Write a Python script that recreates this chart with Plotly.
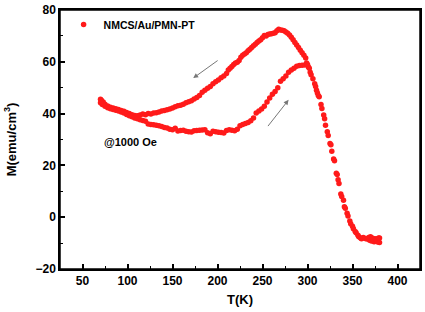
import plotly.graph_objects as go

# Cooling branch (upper curve)
T_cool = [298, 296, 294, 292, 290, 288, 286, 284, 282, 280, 278, 276, 274, 272, 270, 268, 266, 264, 262, 260,
          258, 256, 254, 252, 250, 248, 246, 244, 242, 240, 238, 236, 234, 232, 230, 228, 226, 224, 222, 220,
          218, 216, 214, 212, 210, 207, 204, 201, 198, 195, 192, 189, 186, 183, 180, 177, 174, 171, 168, 165,
          162, 159, 156, 153, 150, 147, 144, 141, 138, 135, 132, 129, 126, 123, 120, 117, 114, 111, 108, 105,
          102, 99, 96, 93, 90, 87, 84, 81, 78, 75, 73, 71, 70]
M_cool = [61.5, 62.5, 63.5, 64.5, 65.5, 66.5, 67.5, 68.5, 69.5, 70.3, 71.0, 71.5, 72.0, 72.2, 72.3, 72.6, 72.0, 71.2, 71.0, 70.8,
          70.7, 70.5, 70.0, 70.2, 69.3, 68.5, 68.0, 67.5, 66.8, 66.2, 65.5, 64.8, 64.3, 63.5, 63.0, 62.5, 61.8, 60.5, 59.8, 59.5,
          59.0, 58.2, 57.5, 56.8, 55.5, 54.5, 53.8, 53.0, 52.3, 51.5, 50.5, 49.8, 49.0, 48.2, 47.0, 46.2, 45.6, 45.0, 44.6, 44.2,
          43.6, 43.2, 43.0, 42.6, 42.2, 41.8, 41.5, 41.2, 41.0, 40.6, 40.3, 40.2, 39.8, 40.0, 39.6, 39.8, 39.5, 39.2, 39.3, 39.6,
          40.0, 40.4, 40.9, 41.2, 41.6, 41.9, 42.2, 42.5, 42.9, 43.6, 44.5, 45.2, 45.5]

# Warming branch (lower curve)
T_warm = [70, 72, 75, 78, 81, 84, 87, 90, 93, 96, 99, 102, 105, 108, 111, 114, 117, 120, 123, 126,
          129, 132, 135, 138, 141, 144, 147, 150, 153, 156, 159, 162, 165, 168, 171, 174, 177, 180, 183, 186,
          189, 192, 195, 198, 201, 204, 207, 210, 213, 216, 219, 222, 225, 228, 231, 234, 237, 240, 243, 246,
          249, 252, 255, 258, 261, 264, 267, 270, 273, 276, 279, 282, 285, 288, 291, 294, 297]
M_warm = [44.2, 43.5, 42.8, 42.3, 41.9, 41.6, 41.3, 41.0, 40.6, 40.2, 39.7, 39.2, 38.8, 38.3, 38.0, 37.6, 37.3, 37.0, 36.0, 35.8,
          35.7, 35.5, 35.3, 35.0, 34.6, 34.4, 34.0, 33.8, 34.3, 33.3, 33.5, 33.6, 33.2, 33.0, 32.9, 33.4, 33.5, 33.6, 33.7, 33.8,
          32.6, 32.2, 33.2, 33.0, 32.8, 32.7, 32.5, 33.5, 33.8, 33.6, 33.4, 34.0, 35.3, 35.8, 36.2, 36.6, 37.2, 38.3, 40.2, 41.0,
          41.8, 42.8, 44.5, 46.0, 47.5, 48.5, 50.0, 52.5, 53.5, 54.5, 56.0, 56.8, 57.5, 58.3, 58.6, 58.7, 58.8]

# High-temperature tail
T_tail = [299, 300, 301, 302, 303, 304, 306, 308, 309, 310, 311, 312, 313, 315, 316, 318, 319, 320, 322, 323,
          325, 326, 327, 329, 330, 332, 333, 334, 335, 337, 338, 340, 341, 342, 344, 345, 347, 348, 350, 351,
          353, 354, 356, 357, 359, 360, 362, 364, 366, 368, 369, 370, 371, 372, 373, 374, 375, 376, 377, 378,
          379, 380, 380]
M_tail = [59.5, 59.0, 58.0, 57.5, 56.0, 55.0, 53.5, 51.5, 50.5, 49.0, 48.0, 47.0, 46.5, 43.5, 42.0, 39.5, 38.0, 35.5, 33.0, 31.5,
          28.5, 28.0, 25.5, 22.5, 21.8, 17.0, 16.5, 14.5, 13.0, 9.0, 8.0, 6.5, 4.0, 3.5, 1.5, 0.5, -1.5, -2.5, -3.5, -4.5,
          -5.5, -6.0, -7.0, -7.5, -8.0, -8.3, -7.8, -8.2, -8.4, -7.8, -8.9, -7.5, -9.2, -8.0, -8.6, -9.5, -8.3, -9.0, -8.4, -9.6,
          -8.0, -9.8, -8.0]

x_ticks = [50, 100, 150, 200, 250, 300, 350, 400]
y_ticks = [-20, 0, 20, 40, 60, 80]

T_all = T_cool + T_warm + T_tail
M_all = M_cool + M_warm + M_tail

FONT = "Liberation Sans"

fig = go.Figure()
fig.add_trace(go.Scatter(
    x=T_all, y=M_all, mode="markers", name="<b>NMCS/Au/PMN-PT</b>",
    marker=dict(color="#ff1a1a", size=5.5, symbol="circle", line=dict(width=0)),
))

axis_common = dict(
    showgrid=False, zeroline=False, showline=True, linecolor="black", linewidth=1.5,
    mirror=True, ticks="inside", ticklen=5, tickwidth=1.5, tickcolor="black",
    tickfont=dict(family=FONT, size=12, color="black", weight="bold"),
)

fig.update_xaxes(
    range=[25, 425], tickvals=x_ticks,
    minor=dict(ticks="inside", ticklen=3, tickwidth=1.2, tickcolor="black", dtick=25, tick0=25),
    title=dict(text="<b>T(K)</b>", font=dict(family=FONT, size=13, color="black"), standoff=8),
    **axis_common,
)
fig.update_yaxes(
    range=[-20, 80], tickvals=y_ticks,
    minor=dict(ticks="inside", ticklen=3, tickwidth=1.2, tickcolor="black", dtick=10, tick0=0),
    title=dict(text="<b>M(emu/cm<sup>3</sup>)</b>", font=dict(family=FONT, size=13, color="black"), standoff=16),
    **axis_common,
)

# frame (top and right edges)
fig.add_shape(type="rect", xref="paper", yref="paper", x0=0, y0=0, x1=1, y1=1,
              line=dict(color="black", width=1.5), fillcolor="rgba(0,0,0,0)", layer="above")

fig.add_annotation(x=173, y=53.7, ax=201.8, ay=60.9, xref="x", yref="y", axref="x", ayref="y",
                   text="", showarrow=True, arrowhead=2, arrowsize=1, arrowwidth=1, arrowcolor="#777777")
fig.add_annotation(x=279, y=45.3, ax=254.8, ay=34.6, xref="x", yref="y", axref="x", ayref="y",
                   text="", showarrow=True, arrowhead=2, arrowsize=1, arrowwidth=1, arrowcolor="#777777")
fig.add_annotation(x=71.5, y=29.2, xref="x", yref="y", xanchor="left", yanchor="middle",
                   text="<b>@1000 Oe</b>", showarrow=False,
                   font=dict(family=FONT, size=11, color="black"))

fig.update_layout(
    width=425, height=312,
    margin=dict(l=60, r=3, t=7, b=43),
    paper_bgcolor="white", plot_bgcolor="white",
    showlegend=True,
    legend=dict(x=0.01, y=1.0, xanchor="left", yanchor="top", bgcolor="rgba(0,0,0,0)",
                font=dict(family=FONT, size=10.5, color="black"), itemwidth=30),
)

# remove the default 8px page margin so the figure sits at the window origin
fig.write_html("out.html", config={"displayModeBar": False},
               post_script="document.body.style.margin='0';document.body.style.overflow='hidden';")
